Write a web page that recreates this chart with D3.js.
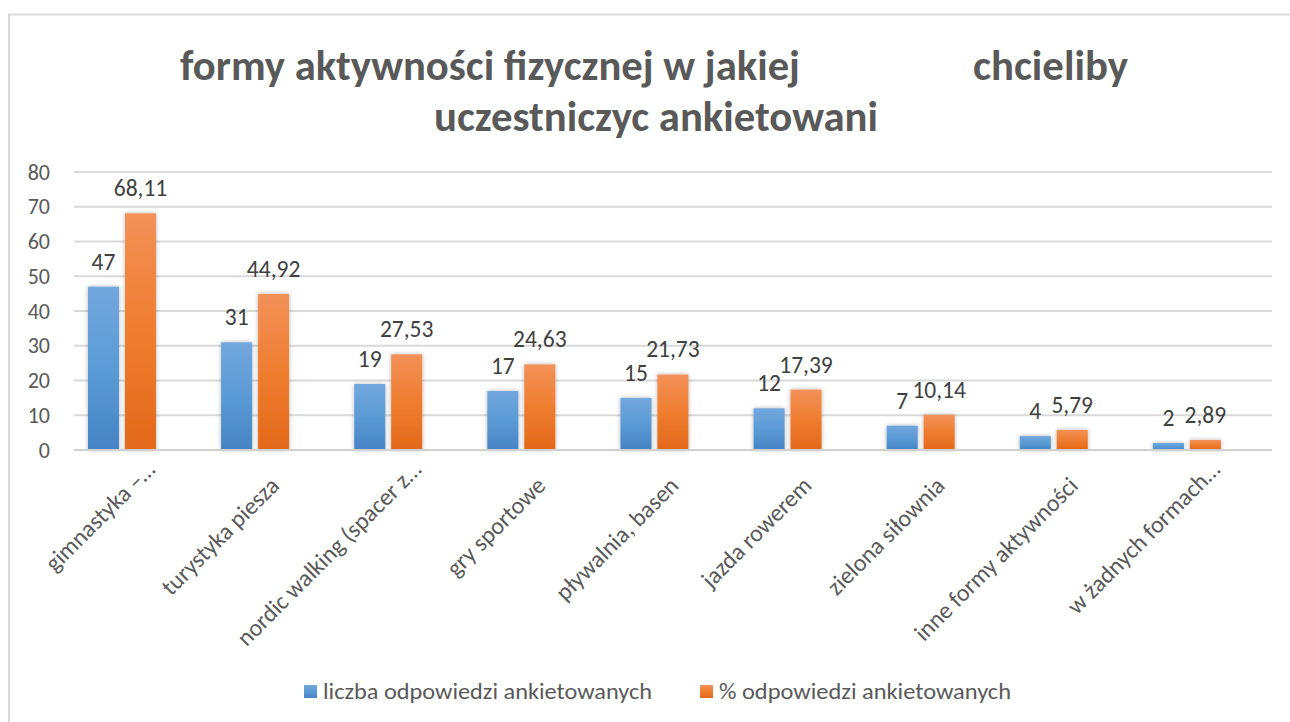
<!DOCTYPE html>
<html>
<head>
<meta charset="utf-8">
<script src="https://cdn.jsdelivr.net/npm/d3@7/dist/d3.min.js"></script>
<style>
  body { margin: 0; background: #fff; }
  text { font-family: Calibri, Carlito, Lato, sans-serif; }
</style>
</head>
<body>
<div id="chart"></div>
<script>
// categories as shown on the axis (Excel truncated the long ones)
const categories = [
    "gimnastyka –…",
    "turystyka piesza",
    "nordic walking (spacer z…",
    "gry sportowe",
    "pływalnia, basen",
    "jazda rowerem",
    "zielona siłownia",
    "inne formy aktywności",
    "w żadnych formach…"
];
const liczba = [47, 31, 19, 17, 15, 12, 7, 4, 2];
const procent = [68.11, 44.92, 27.53, 24.63, 21.73, 17.39, 10.14, 5.79, 2.89];
const seriesNames = ["liczba odpowiedzi ankietowanych", "% odpowiedzi ankietowanych"];
const yTicks = [0, 10, 20, 30, 40, 50, 60, 70, 80];
const titleLine1 = "formy aktywności fizycznej w jakiej";
const titleLine1b = "chcieliby";
const titleLine2 = "uczestniczyc ankietowani";

const width = 1290, height = 722;
const plot = { left: 74, right: 1272, top: 172, bottom: 450 };

const svg = d3.select("#chart").append("svg")
    .attr("width", width)
    .attr("height", height);

// gradients + soft shadow like the Excel preset
const defs = svg.append("defs");
const grads = [
    { id: "gBlue", stops: ["#72a7dd", "#5b9bd5", "#4683c4"] },
    { id: "gOrange", stops: ["#f29159", "#ef7d2f", "#e2681a"] }
];
grads.forEach(g => {
    const lg = defs.append("linearGradient").attr("id", g.id)
        .attr("x1", 0).attr("y1", 0).attr("x2", 0).attr("y2", 1);
    g.stops.forEach((c, i) => lg.append("stop").attr("offset", i / 2).attr("stop-color", c));
});
defs.append("filter").attr("id", "shadow")
    .attr("x", "-30%").attr("y", "-30%").attr("width", "160%").attr("height", "160%")
    .append("feDropShadow")
    .attr("dx", 0).attr("dy", 0).attr("stdDeviation", 2.2)
    .attr("flood-color", "#000").attr("flood-opacity", 0.3);

// chart frame (only left/top visible in the picture)
svg.append("rect")
    .attr("x", 9).attr("y", 14.5)
    .attr("width", 1310).attr("height", 730)
    .attr("fill", "none").attr("stroke", "#d9d9d9").attr("stroke-width", 2);

// title
function titleText(str, tx, ty, len) {
    svg.append("text").attr("x", tx).attr("y", ty)
        .attr("font-size", 42).attr("font-weight", "bold").attr("fill", "#595959")
        .attr("textLength", len).attr("lengthAdjust", "spacingAndGlyphs")
        .text(str);
}
titleText(titleLine1, 180, 80, 620);
titleText(titleLine1b, 973, 80, 155);
titleText(titleLine2, 434, 131, 444);

// scales
const y = d3.scaleLinear().domain([0, 80]).range([plot.bottom, plot.top]);
const x = d3.scaleBand().domain(categories).range([plot.left, plot.right]);
// bars sit left of the band centre in the original
const x1 = d3.scaleBand().domain([0, 1]).range([14, 82]).paddingInner(0.16);

// gridlines
svg.append("g")
    .selectAll("line")
    .data(yTicks)
    .join("line")
    .attr("x1", plot.left).attr("x2", plot.right)
    .attr("y1", d => y(d)).attr("y2", d => y(d))
    .attr("stroke", "#d9d9d9").attr("stroke-width", 2);

// y axis labels
const yAxis = svg.append("g")
    .attr("transform", `translate(${plot.left - 24},0)`)
    .call(d3.axisLeft(y).tickValues(yTicks).tickSize(0).tickPadding(0));
yAxis.select(".domain").remove();
yAxis.selectAll("text")
    .attr("font-size", 22).attr("fill", "#595959")
    .attr("font-family", "Calibri, Carlito, Lato, sans-serif");

// bars
const fmt = d3.formatLocale({ decimal: ",", thousands: " ", grouping: [3], currency: ["", ""] }).format(".4~r");
const series = [liczba, procent];
const fills = ["url(#gBlue)", "url(#gOrange)"];

series.forEach((vals, s) => {
    const g = svg.append("g");
    g.selectAll("rect")
        .data(vals)
        .join("rect")
        .attr("x", (d, i) => x(categories[i]) + x1(s))
        .attr("y", d => y(d))
        .attr("width", x1.bandwidth())
        .attr("height", d => y(0) - y(d))
        .attr("fill", fills[s])
        .attr("filter", "url(#shadow)");
    g.selectAll("text")
        .data(vals)
        .join("text")
        .attr("x", (d, i) => x(categories[i]) + x1(s) + x1.bandwidth() / 2)
        .attr("y", d => y(d) - 17)
        .attr("text-anchor", "middle")
        .attr("font-size", 23.5)
        .attr("fill", "#404040")
        .text(d => fmt(d));
});

// axis line
svg.append("line")
    .attr("x1", plot.left).attr("x2", plot.right)
    .attr("y1", y(0)).attr("y2", y(0))
    .attr("stroke", "#d0d0d0").attr("stroke-width", 2);

// category labels, rotated; truncated ones sit a bit further up the slope
svg.append("g")
    .selectAll("text")
    .data(categories)
    .join("text")
    .attr("transform", d => {
        const cut = d.endsWith("…");
        const tx = x(d) + x.bandwidth() / 2 + (cut ? 16 : 7);
        const ty = cut ? 471 : 487;
        return `translate(${tx},${ty}) rotate(-45)`;
    })
    .attr("text-anchor", "end")
    .attr("font-size", 24)
    .attr("fill", "#595959")
    .text(d => d);

// legend
const legendX = [304, 700];
const legendLen = [329, 292];
const legend = svg.append("g");
seriesNames.forEach((name, i) => {
    legend.append("rect")
        .attr("x", legendX[i]).attr("y", 685)
        .attr("width", 13).attr("height", 13)
        .attr("fill", fills[i]);
    legend.append("text")
        .attr("x", legendX[i] + 19).attr("y", 699)
        .attr("font-size", 22).attr("fill", "#595959")
        .attr("textLength", legendLen[i]).attr("lengthAdjust", "spacingAndGlyphs")
        .text(name);
});
</script>
</body>
</html>
